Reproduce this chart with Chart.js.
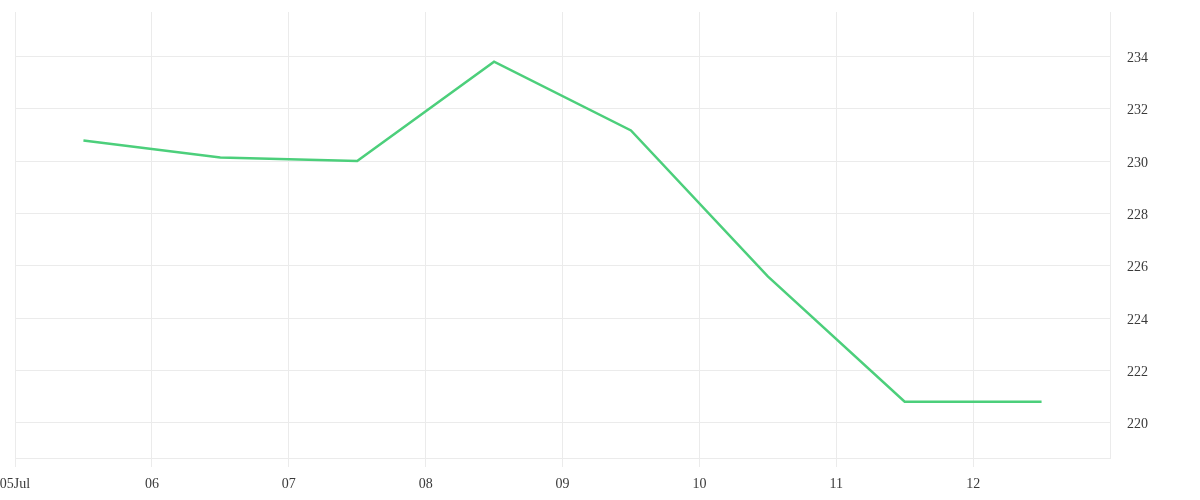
<!DOCTYPE html>
<html>
<head>
<meta charset="utf-8">
<script src="https://cdn.jsdelivr.net/npm/chart.js@4"></script>
<style>
  html, body { margin: 0; padding: 0; background: #fff; }
  #wrap { width: 1200px; height: 500px; }
</style>
</head>
<body>
<div id="wrap"><canvas id="priceChart"></canvas></div>
<script>
// day of July (points sit at midday)
const days = [5.5, 6.5, 7.5, 8.5, 9.5, 10.5, 11.5, 12.5];
const prices = [230.79, 230.14, 230.0, 233.8, 231.17, 225.59, 220.8, 220.8];
const yTicks = [220, 222, 224, 226, 228, 230, 232, 234];
const xTicks = [5, 6, 7, 8, 9, 10, 11, 12];

const gridColor = '#ebebeb';
const tickFont = { family: 'Liberation Serif', size: 14 };

document.addEventListener('DOMContentLoaded', function() {
    const ctx = document.getElementById('priceChart').getContext('2d');
    new Chart(ctx, {
        type: 'line',
        data: {
            datasets: [{
                data: days.map((d, i) => ({ x: d, y: prices[i] })),
                borderColor: '#4ccf7b',
                borderWidth: 2.5,
                pointRadius: 0,
                tension: 0,
                fill: false
            }]
        },
        options: {
            responsive: true,
            maintainAspectRatio: false,
            animation: false,
            layout: { padding: { top: 12, left: 0, right: 0 } },
            plugins: {
                legend: { display: false },
                tooltip: { enabled: false }
            },
            scales: {
                x: {
                    type: 'linear',
                    min: 5,
                    max: 13,
                    afterBuildTicks: (scale) => {
                        scale.ticks = xTicks.map(v => ({ value: v }));
                    },
                    afterFit: (scale) => {
                        scale.height = 42;
                        scale.paddingLeft = 15;
                        scale.paddingRight = 0;
                    },
                    ticks: {
                        color: '#3a3a3a',
                        font: tickFont,
                        padding: 9,
                        maxRotation: 0,
                        callback: function(value) {
                            const s = String(value).padStart(2, '0');
                            return value === 5 ? s + 'Jul' : s;
                        }
                    },
                    grid: {
                        color: gridColor,
                        tickLength: 9
                    },
                    border: { color: gridColor }
                },
                y: {
                    position: 'right',
                    min: 218.65,
                    max: 235.7,
                    afterBuildTicks: (scale) => {
                        scale.ticks = yTicks.map(v => ({ value: v }));
                    },
                    afterFit: (scale) => {
                        scale.width = 90;
                        scale.paddingTop = 0;
                        scale.paddingBottom = 0;
                    },
                    ticks: {
                        color: '#3a3a3a',
                        font: tickFont,
                        padding: 17,
                        labelOffset: 2,
                        crossAlign: 'near'
                    },
                    grid: {
                        color: gridColor,
                        drawTicks: false
                    },
                    border: { color: gridColor }
                }
            }
        }
    });
});
</script>
</body>
</html>
